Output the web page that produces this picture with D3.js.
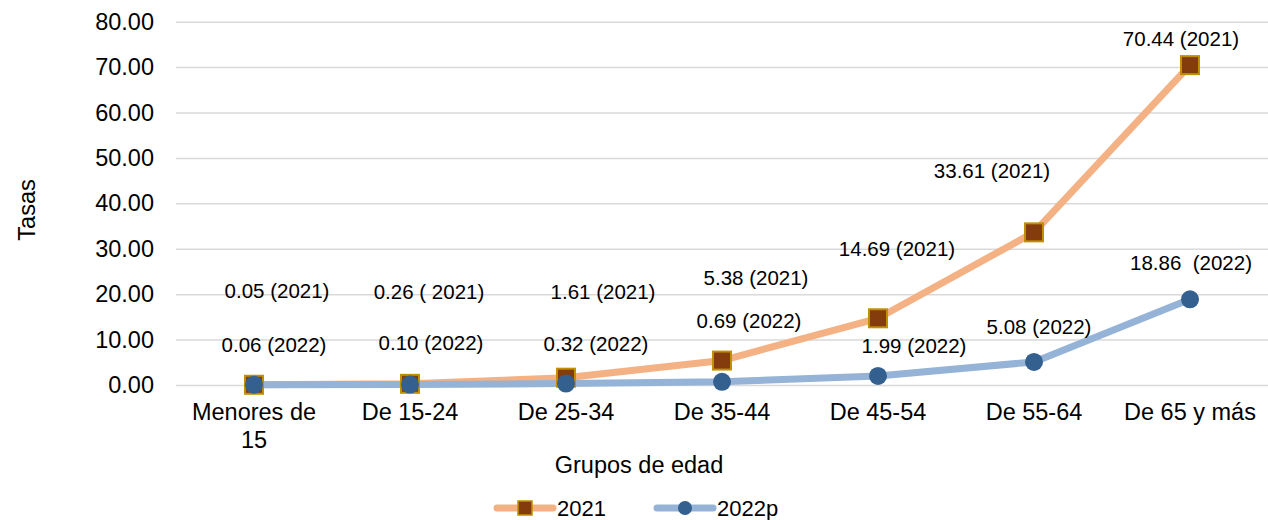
<!DOCTYPE html>
<html><head><meta charset="utf-8">
<script src="https://cdn.jsdelivr.net/npm/d3@7"></script>
<style>
html,body{margin:0;padding:0;background:#fff;}
svg{display:block;font-family:"Liberation Sans",Arial,sans-serif;}
</style></head>
<body><svg id="c" width="1268" height="520"></svg>
<script>
const categories = [["Menores de","15"],["De 15-24"],["De 25-34"],["De 35-44"],["De 45-54"],["De 55-64"],["De 65 y más"]];
const values2021 = [0.05, 0.26, 1.61, 5.38, 14.69, 33.61, 70.44];
const values2022 = [0.06, 0.10, 0.32, 0.69, 1.99, 5.08, 18.86];
const labels2021 = ["0.05 (2021)","0.26 ( 2021)","1.61 (2021)","5.38 (2021)","14.69 (2021)","33.61 (2021)","70.44 (2021)"];
const labels2022 = ["0.06 (2022)","0.10 (2022)","0.32 (2022)","0.69 (2022)","1.99 (2022)","5.08 (2022)","18.86  (2022)"];
const yTicks = [0,10,20,30,40,50,60,70,80];
const seriesNames = ["2021","2022p"];

// layout: label offsets (px) from their points
const off2021 = [[23,-94],[19,-92],[37,-86],[34,-83],[19,-70],[-42,-62],[-9,-27]];
const off2022 = [[20,-40],[21,-42],[30,-40],[27,-61],[36,-30],[5,-35],[1,-37]];

const svg = d3.select("#c");
const L = 176, R = 1268, T = 21.7, B = 385;
const x = d3.scaleBand().domain(d3.range(categories.length)).range([L, R]).padding(0);
const cx = i => x(i) + x.bandwidth()/2;
const y = d3.scaleLinear().domain([0,80]).range([B, T]);

const orange = "#f4b183", blueL = "#95b3d7", blueD = "#34608f", brown = "#843c0c", gold = "#bf9000";

// gridlines
const gy = d3.axisLeft(y).tickValues(yTicks).tickSize(-(R-L)).tickFormat(d => d.toFixed(2)).tickPadding(22);
const ga = svg.append("g").attr("transform", `translate(${L},0)`).call(gy);
ga.select(".domain").remove();
ga.selectAll(".tick line").attr("stroke", "#d9d9d9").attr("stroke-width", 1.5);
ga.selectAll(".tick text").attr("font-size", 23.5).attr("fill", "#000");

// x labels
const xa = svg.append("g");
categories.forEach((c, i) => {
  const t = xa.append("text").attr("x", cx(i)).attr("y", 420).attr("text-anchor","middle")
    .attr("font-size", 23.5).attr("fill","#000");
  c.forEach((s, k) => t.append("tspan").attr("x", cx(i)).attr("dy", k === 0 ? 0 : 28).text(s));
});

svg.append("text").attr("x", 639).attr("y", 473).attr("text-anchor","middle").attr("font-size", 23.5).text("Grupos de edad");
svg.append("text").attr("transform","translate(35,210) rotate(-90)").attr("text-anchor","middle").attr("font-size", 23.5).text("Tasas");

const line = d3.line().x((d,i) => cx(i)).y(d => y(d));
svg.append("path").datum(values2021).attr("d", line).attr("fill","none").attr("stroke", orange).attr("stroke-width", 7).attr("stroke-linejoin","round");
svg.append("path").datum(values2022).attr("d", line).attr("fill","none").attr("stroke", blueL).attr("stroke-width", 7).attr("stroke-linejoin","round");

const sq = 18;
svg.append("g").selectAll("rect").data(values2021).join("rect")
  .attr("x", (d,i) => cx(i) - sq/2).attr("y", d => y(d) - sq/2).attr("width", sq).attr("height", sq)
  .attr("fill", brown).attr("stroke", gold).attr("stroke-width", 2);
svg.append("g").selectAll("circle").data(values2022).join("circle")
  .attr("cx", (d,i) => cx(i)).attr("cy", d => y(d)).attr("r", 9).attr("fill", blueD);

svg.append("g").selectAll("text").data(values2021).join("text")
  .attr("x", (d,i) => cx(i) + off2021[i][0]).attr("y", (d,i) => y(d) + off2021[i][1])
  .attr("text-anchor","middle").attr("dominant-baseline","central").attr("font-size", 20.5).attr("fill","#000")
  .style("white-space","pre").text((d,i) => labels2021[i]);
svg.append("g").selectAll("text").data(values2022).join("text")
  .attr("x", (d,i) => cx(i) + off2022[i][0]).attr("y", (d,i) => y(d) + off2022[i][1])
  .attr("text-anchor","middle").attr("dominant-baseline","central").attr("font-size", 20.5).attr("fill","#000")
  .style("white-space","pre").text((d,i) => labels2022[i]);

// legend
const lg = svg.append("g");
const legendItems = [
  {name: seriesNames[0], x0: 497, col: orange, mark: "sq"},
  {name: seriesNames[1], x0: 657, col: blueL, mark: "ci"}
];
legendItems.forEach(it => {
  const ly = 508;
  lg.append("line").attr("x1", it.x0).attr("x2", it.x0 + 56).attr("y1", ly).attr("y2", ly)
    .attr("stroke", it.col).attr("stroke-width", 7).attr("stroke-linecap","round");
  if (it.mark === "sq") lg.append("rect").attr("x", it.x0 + 28 - 7).attr("y", ly - 7).attr("width", 14).attr("height", 14).attr("fill", brown).attr("stroke", gold).attr("stroke-width", 1.5);
  else lg.append("circle").attr("cx", it.x0 + 28).attr("cy", ly).attr("r", 7).attr("fill", blueD);
  lg.append("text").attr("x", it.x0 + 60).attr("y", ly).attr("dominant-baseline","central").attr("font-size", 22).text(it.name);
});
</script></body></html>
